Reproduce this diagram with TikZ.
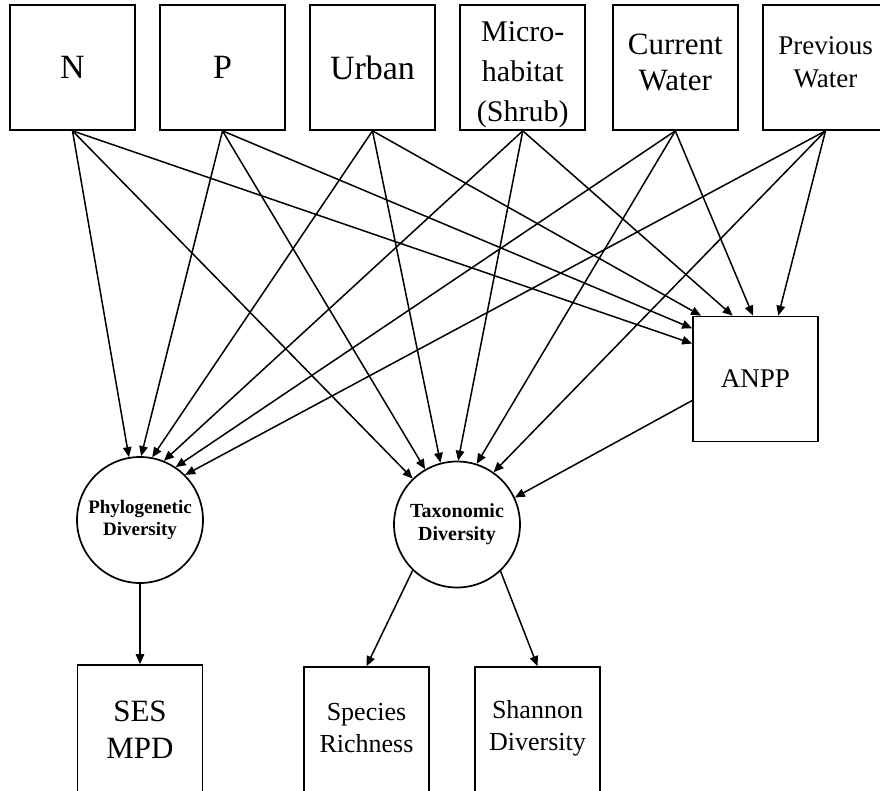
\documentclass[tikz,border=0pt]{standalone}
\usepackage{fontspec}
\setmainfont{Liberation Serif}
\usetikzlibrary{arrows.meta,calc}
\begin{document}
\begin{tikzpicture}[x=1pt,y=-1pt,
  box/.style={draw,line width=1.7pt,minimum width=125pt,minimum height=125pt,inner sep=0pt,align=center},
  lowbox/.style={box,minimum height=131pt},
  circ/.style={draw,circle,line width=1.7pt,minimum size=126pt,inner sep=0pt,align=center,font=\bfseries},
  lbl/.style={align=center,inner sep=0pt},
  arr/.style={line width=1.5pt,-{Triangle[length=10pt,width=8.5pt]}}
]
\useasboundingbox (0,0) rectangle (880,790);
\clip (0,0) rectangle (880,790);

% top row
\node[box,font=\fontsize{34}{40}\selectfont] (n) at (72.5,67.5) {N};
\node[box,font=\fontsize{34}{40}\selectfont] (p) at (222.5,67.5) {P};
\node[box,font=\fontsize{34}{40}\selectfont] (u) at (372.5,67.5) {Urban};
\node[box,label={[lbl,font=\fontsize{30}{40}\selectfont,yshift=-7.5pt]center:Micro-\\habitat\\(Shrub)}] (m) at (522.8,67.5) {};
\node[box,label={[lbl,font=\fontsize{31}{36}\selectfont,yshift=5.5pt]center:Current\\Water}] (cw) at (675.3,67.5) {};
\node[box,label={[lbl,font=\fontsize{27}{33}\selectfont,yshift=5.5pt]center:Previous\\Water}] (pw) at (825.5,67.5) {};

% middle
\node[box,font=\fontsize{27}{32}\selectfont] (a) at (755.5,379) {ANPP};
\node[circ,font=\bfseries\fontsize{19}{22}\selectfont] (phy) at (140,520) {Phylogenetic\\Diversity};
\node[circ,font=\bfseries\fontsize{20}{23}\selectfont] (tax) at (457,524.5) {Taxonomic\\Diversity};

% bottom
\node[lowbox,label={[lbl,font=\fontsize{31}{37}\selectfont,yshift=1pt]center:SES\\MPD}] (ses) at (140,730.5) {};
\node[lowbox,label={[lbl,font=\fontsize{26}{32}\selectfont,yshift=4pt]center:Species\\Richness}] (sr) at (366.5,732.5) {};
\node[lowbox,label={[lbl,font=\fontsize{26}{32}\selectfont,yshift=4pt]center:Shannon\\Diversity}] (sh) at (537.5,732.5) {};

% ANPP entry points
\coordinate (aN) at ($(a.north west)!0.22!(a.south west)$);
\coordinate (aP) at ($(a.north west)!0.10!(a.south west)$);
\coordinate (aU) at ($(a.north west)!0.07!(a.north east)$);
\coordinate (aM) at ($(a.north west)!0.32!(a.north east)$);
\coordinate (aC) at ($(a.north west)!0.48!(a.north east)$);
\coordinate (aW) at ($(a.north west)!0.68!(a.north east)$);
\coordinate (aOut) at ($(a.north west)!0.67!(a.south west)$);

% to phylogenetic diversity
\draw[arr] (n.south) -- (phy.100.8);
\draw[arr] (p.south) -- (phy.89);
\draw[arr] (u.south) -- (phy.79);
\draw[arr] (m.south) -- (phy.68);
\draw[arr] (cw.south) -- (phy.56);
\draw[arr] (pw.south) -- (phy.45);

% to taxonomic diversity
\draw[arr] (n.south) -- (tax.134);
\draw[arr] (p.south) -- (tax.120);
\draw[arr] (u.south) -- (tax.105);
\draw[arr] (m.south) -- (tax.89);
\draw[arr] (cw.south) -- (tax.72);
\draw[arr] (pw.south) -- (tax.55);

% to ANPP
\draw[arr] (n.south) -- (aN);
\draw[arr] (p.south) -- (aP);
\draw[arr] (u.south) -- (aU);
\draw[arr] (m.south) -- (aM);
\draw[arr] (cw.south) -- (aC);
\draw[arr] (pw.south) -- (aW);

% ANPP to taxonomic
\draw[arr] (aOut) -- (tax.25);

% outputs
\draw[arr] (phy.south) -- (ses.north);
\draw[arr] (tax.-134) -- (sr.north);
\draw[arr] (tax.-47) -- (sh.north);
\end{tikzpicture}
\end{document}
